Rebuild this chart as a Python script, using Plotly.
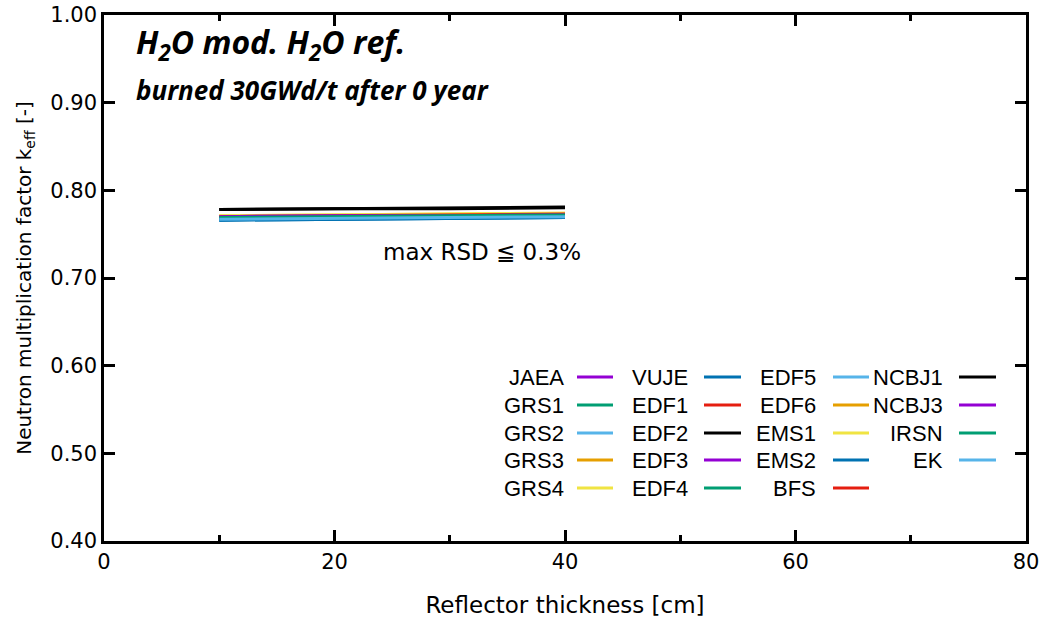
import plotly.graph_objects as go

# Reflector thickness [cm]
thickness = [10, 20, 30, 40]

# k_eff per participant (legend order)
names = ["JAEA", "GRS1", "GRS2", "GRS3", "GRS4",
         "VUJE", "EDF1", "EDF2", "EDF3", "EDF4",
         "EDF5", "EDF6", "EMS1", "EMS2", "BFS",
         "NCBJ1", "NCBJ3", "IRSN", "EK"]

jaea = [0.770, 0.771, 0.772, 0.773]
grs1 = [0.769, 0.770, 0.771, 0.772]
grs2 = [0.767, 0.768, 0.769, 0.770]
grs3 = [0.770, 0.771, 0.772, 0.773]
grs4 = [0.771, 0.772, 0.773, 0.774]
vuje = [0.766, 0.767, 0.768, 0.769]
edf1 = [0.770, 0.771, 0.772, 0.773]
edf2 = [0.778, 0.779, 0.779, 0.780]
edf3 = [0.770, 0.771, 0.772, 0.773]
edf4 = [0.769, 0.770, 0.771, 0.772]
edf5 = [0.767, 0.768, 0.769, 0.770]
edf6 = [0.770, 0.771, 0.772, 0.773]
ems1 = [0.771, 0.772, 0.773, 0.774]
ems2 = [0.766, 0.767, 0.768, 0.769]
bfs = [0.770, 0.771, 0.772, 0.773]
ncbj1 = [0.778, 0.779, 0.780, 0.781]
ncbj3 = [0.770, 0.771, 0.771, 0.772]
irsn = [0.769, 0.770, 0.771, 0.772]
ek = [0.767, 0.768, 0.769, 0.770]

series = [jaea, grs1, grs2, grs3, grs4, vuje, edf1, edf2, edf3, edf4,
          edf5, edf6, ems1, ems2, bfs, ncbj1, ncbj3, irsn, ek]

PURPLE = "#9400D3"
GREEN = "#009E73"
SKY = "#56B4E9"
ORANGE = "#E69F00"
YELLOW = "#F0E442"
BLUE = "#0072B2"
RED = "#E51E10"
BLACK = "#000000"

colors = [PURPLE, GREEN, SKY, ORANGE, YELLOW,
          BLUE, RED, BLACK, PURPLE, GREEN,
          SKY, ORANGE, YELLOW, BLUE, RED,
          BLACK, PURPLE, GREEN, SKY]

fig = go.Figure()
for name, vals, col in zip(names, series, colors):
    fig.add_trace(go.Scatter(x=thickness, y=vals, mode="lines", name=name,
                             line=dict(color=col, width=3), showlegend=False))

# Figure geometry (pixels)
W, H = 1050, 625
L, R, T, B = 104, 24, 15, 84
pw, ph = W - L - R, H - T - B


def px(x):
    return (x - L) / pw


def py(y):
    return 1 - (y - T) / ph


# Legend block: 4 columns x 5 rows, label to the left of the key line
col_text = [566, 690, 818, 945]
col_line = [(577, 613), (704, 741), (833, 869), (959, 996)]
row_y = [377, 405, 433, 460, 488]

annotations = []
shapes = []
for i, (name, col) in enumerate(zip(names, colors)):
    c, r = divmod(i, 5)
    yy = py(row_y[r])
    annotations.append(dict(x=px(col_text[c]), y=yy, xref="paper", yref="paper",
                            text=name, showarrow=False, xanchor="right",
                            yanchor="middle",
                            font=dict(family="Liberation Sans, Arial", size=22,
                                      color="black")))
    x0, x1 = col_line[c]
    shapes.append(dict(type="line", xref="paper", yref="paper",
                       x0=px(x0), x1=px(x1), y0=yy, y1=yy,
                       line=dict(color=col, width=3)))

annotations += [
    dict(x=px(134), y=py(44), xref="paper", yref="paper",
         text="<b><i>H<sub>2</sub>O mod. H<sub>2</sub>O ref.</i></b>",
         showarrow=False, xanchor="left", yanchor="middle",
         font=dict(family="Open Sans", size=32, color="black")),
    dict(x=px(134), y=py(90), xref="paper", yref="paper",
         text="<b><i>burned 30GWd/t after 0 year</i></b>",
         showarrow=False, xanchor="left", yanchor="middle",
         font=dict(family="Open Sans", size=26, color="black")),
    dict(x=px(482), y=py(252), xref="paper", yref="paper",
         text="max RSD ≦ 0.3%", showarrow=False, xanchor="center",
         yanchor="middle",
         font=dict(family="DejaVu Sans", size=23, color="black")),
]

axis_font = dict(family="DejaVu Sans", size=21, color="black")

fig.update_layout(
    width=W, height=H,
    margin=dict(l=L, r=R, t=T, b=B, pad=0, autoexpand=False),
    paper_bgcolor="white", plot_bgcolor="white",
    annotations=annotations, shapes=shapes,
    xaxis=dict(range=[0, 80], dtick=20, tick0=0, showgrid=False, zeroline=False,
               automargin=False,
               showline=True, linecolor="black", linewidth=2.5, mirror="ticks",
               ticks="inside", ticklen=11, tickwidth=2.5, tickcolor="black",
               minor=dict(dtick=10, ticks="inside", ticklen=6, tickwidth=2.5,
                          tickcolor="black", showgrid=False),
               tickfont=axis_font,
               title=dict(text="Reflector thickness [cm]", standoff=24,
                          font=dict(family="DejaVu Sans", size=23, color="black"))),
    yaxis=dict(range=[0.40, 1.00], dtick=0.1, tick0=0.4, tickformat=".2f",
               showgrid=False, zeroline=False, automargin=False,
               showline=True, linecolor="black", linewidth=2.5, mirror="ticks",
               ticks="inside", ticklen=11, tickwidth=2.5, tickcolor="black",
               tickfont=axis_font,
               title=dict(text="Neutron multiplication factor k<sub>eff</sub> [-]",
                          standoff=14,
                          font=dict(family="DejaVu Sans", size=20, color="black"))),
)

fig.write_html("out.html")
